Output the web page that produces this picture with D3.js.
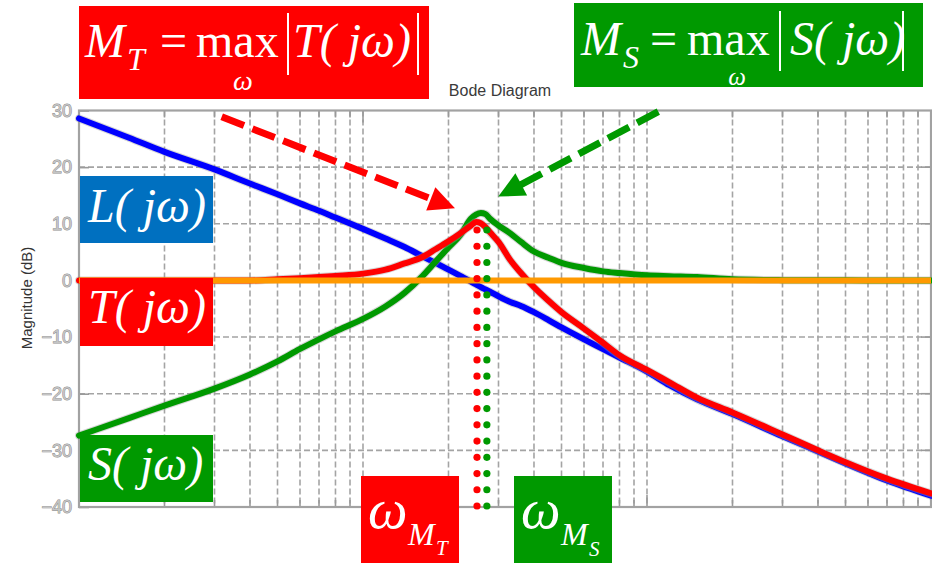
<!DOCTYPE html>
<html>
<head>
<meta charset="utf-8">
<script src="https://cdn.jsdelivr.net/npm/d3@7"></script>
<style>
  html, body { margin: 0; padding: 0; background: #ffffff; }
  svg { display: block; }
</style>
</head>
<body>
<script>
// Frequency grid (rad/s) and magnitudes (dB) of the loop, complementary sensitivity and sensitivity
const freq = [0.1, 0.15, 0.2, 0.3, 0.4, 0.5, 0.6, 0.7, 0.8, 1.0, 1.2, 1.4, 1.6, 1.8, 2.0, 2.2, 2.4, 2.5, 2.6, 2.7,
              2.8, 3.0, 3.3, 3.6, 4.0, 4.5, 5, 6, 7, 8, 10, 12, 15, 20, 30, 40, 50, 70, 100];
const magL = [28.6, 25.2, 22.7, 19.6, 17.1, 15.2, 13.6, 12.3, 11.1, 9.1, 7.4, 5.9, 4.4, 3.1, 1.9, 0.8, -0.2, -0.7, -1.2, -1.6,
              -2.0, -2.8, -3.8, -4.5, -5.6, -7.0, -8.3, -10.4, -12.1, -13.6, -16.1, -18.5, -21.0, -23.6, -27.5, -30.2, -32.3, -35.3, -38.0];
const magT = [0, 0, 0, 0, 0, 0.2, 0.4, 0.6, 0.8, 1.2, 1.9, 3.0, 4.0, 5.5, 6.9, 8.3, 9.7, 10.3, 10.1, 9.4,
              8.5, 6.8, 3.6, 1.3, -1.2, -3.6, -5.6, -8.5, -11.0, -13.2, -15.8, -18.0, -20.7, -23.3, -27.2, -30.0, -32.1, -35.0, -37.6];
const magS = [-27.4, -24.3, -22.1, -19.1, -16.6, -14.3, -12.1, -10.4, -9.0, -6.8, -4.6, -2.2, 0.5, 3.3, 5.8, 8.0, 10.9, 11.6, 11.9, 11.7,
              10.9, 9.7, 8.3, 6.8, 5.1, 4.0, 3.1, 2.2, 1.6, 1.3, 0.9, 0.75, 0.6, 0.2, 0.05, 0.02, 0.01, 0, 0];

// Axis ticks (dB)
const magTicks = [-40, -30, -20, -10, 0, 10, 20, 30];

// Peak frequencies of |T| and |S| (rad/s)
const peakOmega = [2.52, 2.73];

// Annotation arrows in data coordinates: [start freq, start dB, tip freq, tip dB]
const arrowT = [0.318, 28.9, 2.108, 12.73];
const arrowS = [10.96, 29.8, 2.995, 14.8];

const W = 932, H = 563;
const plot = { left: 79, right: 931, top: 110.5, bottom: 507 };

const x = d3.scaleLog().domain([0.1, 100]).range([plot.left, plot.right]);
const y = d3.scaleLinear().domain([-40, 30]).range([plot.bottom, plot.top]);

const svg = d3.select("body").append("svg").attr("width", W).attr("height", H);

const RED = "#ff0000", GREEN = "#009900", BLUE_BOX = "#0070c0", BLUE = "#0000ff", ORANGE = "#ff9900";
const serif = "'Liberation Serif', 'Times New Roman', Times, serif";
const sans = "'Liberation Sans', Arial, Helvetica, sans-serif";

// ---- grid ----
const grid = svg.append("g").attr("stroke", "#a4a4a4").attr("stroke-width", 1.6)
  .attr("stroke-dasharray", "6 3").attr("fill", "none");
const xTicks = x.ticks().filter(v => v > 0.1 + 1e-9 && v < 100 - 1e-9);
grid.selectAll("line.v").data(xTicks).join("line")
  .attr("x1", d => x(d)).attr("x2", d => x(d))
  .attr("y1", plot.top).attr("y2", plot.bottom);
grid.selectAll("line.h").data(magTicks.filter(v => v > -40 && v < 30)).join("line")
  .attr("x1", plot.left).attr("x2", plot.right)
  .attr("y1", d => y(d)).attr("y2", d => y(d));

// ---- tick marks ----
const ticksG = svg.append("g").attr("stroke", "#9a9a9a").attr("stroke-width", 1.6);
const isDecade = v => Math.abs(Math.log10(v) - Math.round(Math.log10(v))) < 1e-6;
ticksG.selectAll("line.tb").data(xTicks).join("line")
  .attr("x1", d => x(d)).attr("x2", d => x(d))
  .attr("y1", plot.bottom).attr("y2", d => plot.bottom - (isDecade(d) ? 12 : 7));
ticksG.selectAll("line.tt").data(xTicks).join("line")
  .attr("x1", d => x(d)).attr("x2", d => x(d))
  .attr("y1", plot.top).attr("y2", d => plot.top + (isDecade(d) ? 12 : 7));
ticksG.selectAll("line.tr").data(magTicks.filter(v => v > -40 && v < 30)).join("line")
  .attr("x1", plot.right).attr("x2", plot.right - 10)
  .attr("y1", d => y(d)).attr("y2", d => y(d));

// ---- y axis (labels + inward ticks) ----
const yAxis = d3.axisLeft(y).tickValues(magTicks).tickSizeInner(-10).tickSizeOuter(0).tickPadding(7);
const yg = svg.append("g").attr("transform", `translate(${plot.left},0)`).call(yAxis);
yg.select(".domain").remove();
yg.selectAll(".tick line").attr("stroke", "#9a9a9a").attr("stroke-width", 1.6);
yg.selectAll(".tick text")
  .attr("font-family", sans).attr("font-size", 18)
  .attr("fill", "#c4c4c4").attr("stroke", "#8c8c8c").attr("stroke-width", 0.9)
  .attr("paint-order", "stroke");

// axes box
svg.append("rect")
  .attr("x", plot.left).attr("y", plot.top)
  .attr("width", plot.right - plot.left).attr("height", plot.bottom - plot.top)
  .attr("fill", "none").attr("stroke", "#a2a2a2").attr("stroke-width", 2.2);

// axis label and title
svg.append("text")
  .attr("transform", `translate(32,298) rotate(-90)`)
  .attr("text-anchor", "middle")
  .attr("font-family", sans).attr("font-size", 15).attr("fill", "#333")
  .text("Magnitude (dB)");
svg.append("text")
  .attr("x", 500).attr("y", 96).attr("text-anchor", "middle")
  .attr("font-family", sans).attr("font-size", 16).attr("fill", "#3a3a3a")
  .text("Bode Diagram");

// ---- curves ----
const line = d3.line().x(d => x(d[0])).y(d => y(d[1])).curve(d3.curveMonotoneX);
const curves = [
  { mag: magL, color: BLUE },
  { mag: magS, color: GREEN },
  { mag: magT, color: RED }
];
const curveG = svg.append("g").attr("fill", "none").attr("stroke-linejoin", "round").attr("stroke-linecap", "round");
curves.forEach(c => {
  const pts = freq.map((f, i) => [f, c.mag[i]]);
  curveG.append("path").attr("d", line(pts)).attr("stroke", "#9a9a9a").attr("stroke-opacity", 0.4).attr("stroke-width", 8);
  curveG.append("path").attr("d", line(pts)).attr("stroke", c.color).attr("stroke-width", 6);
});

// 0 dB reference
svg.append("line")
  .attr("x1", x(0.1)).attr("x2", x(100))
  .attr("y1", y(0)).attr("y2", y(0))
  .attr("stroke", ORANGE).attr("stroke-width", 6);

// ---- dotted markers at the peak frequencies ----
const dotColors = [RED, GREEN];
const nDots = 18, dotTop = y(8.9), dotBottom = y(-40) - 1;
peakOmega.forEach((w, k) => {
  svg.append("g").selectAll("circle").data(d3.range(nDots)).join("circle")
    .attr("cx", x(w))
    .attr("cy", i => dotTop + i * (dotBottom - dotTop) / (nDots - 1))
    .attr("r", 3.6)
    .attr("fill", dotColors[k]);
});

// ---- dashed arrows ----
function arrow(a, color) {
  const x0 = x(a[0]), y0 = y(a[1]), x1 = x(a[2]), y1 = y(a[3]);
  const dx = x1 - x0, dy = y1 - y0, len = Math.hypot(dx, dy);
  const ux = dx / len, uy = dy / len, px = -uy, py = ux;
  const headLen = 26, headHalf = 12.5;
  const bx = x1 - ux * headLen, by = y1 - uy * headLen;
  svg.append("line")
    .attr("x1", x0).attr("y1", y0).attr("x2", bx + ux * 2).attr("y2", by + uy * 2)
    .attr("stroke", color).attr("stroke-width", 7).attr("stroke-dasharray", "24 9");
  svg.append("path")
    .attr("d", `M${x1},${y1}L${bx + px * headHalf},${by + py * headHalf}L${bx - px * headHalf},${by - py * headHalf}Z`)
    .attr("fill", color);
}
arrow(arrowT, RED);
arrow(arrowS, GREEN);

// ---- labels ----
function box(xp, yp, w, h, fill) {
  return svg.append("rect").attr("x", xp).attr("y", yp).attr("width", w).attr("height", h).attr("fill", fill);
}
function txt(xp, yp, size, str, italic = true, anchor = "start") {
  return svg.append("text").attr("x", xp).attr("y", yp)
    .attr("font-family", serif).attr("font-size", size)
    .attr("font-style", italic ? "italic" : "normal")
    .attr("text-anchor", anchor).attr("fill", "#fff").text(str);
}
function bar(xp, y0, y1) {
  svg.append("line").attr("x1", xp).attr("x2", xp).attr("y1", y0).attr("y2", y1)
    .attr("stroke", "#fff").attr("stroke-width", 2);
}

// M_T = max |T(jω)|
box(79, 6, 350, 93, RED);
txt(85, 57, 48, "M");
txt(127, 70, 32, "T");
txt(160, 57, 48, "=", false);
txt(196, 57, 48, "max", false);
txt(243, 90, 28, "ω", true, "middle");
bar(288, 13, 75);
txt(293, 57, 48, "T( jω)");
bar(418, 13, 75);

// M_S = max |S(jω)|
box(574, 3, 349, 84, GREEN);
txt(581, 55, 48, "M");
txt(623, 68, 32, "S");
txt(650, 55, 48, "=", false);
txt(687, 55, 48, "max", false);
txt(737, 85, 25, "ω", true, "middle");
bar(780, 11, 71);
txt(790, 55, 48, "S( jω)");
bar(903, 11, 71);

// curve tags
box(80, 176, 133, 67, BLUE_BOX);
txt(88, 222, 48, "L( jω)");
box(80, 278, 133, 68, RED);
txt(88, 323, 48, "T( jω)");
box(80, 435, 133, 67, GREEN);
txt(88, 480, 48, "S( jω)");

// peak frequency tags
box(361, 476, 98, 87, RED);
txt(368, 528, 56, "ω");
txt(408, 545, 32, "M");
txt(436, 555, 21, "T");
box(514, 476, 98, 87, GREEN);
txt(521, 528, 56, "ω");
txt(561, 545, 32, "M");
txt(589, 556, 21, "S");
</script>
</body>
</html>
